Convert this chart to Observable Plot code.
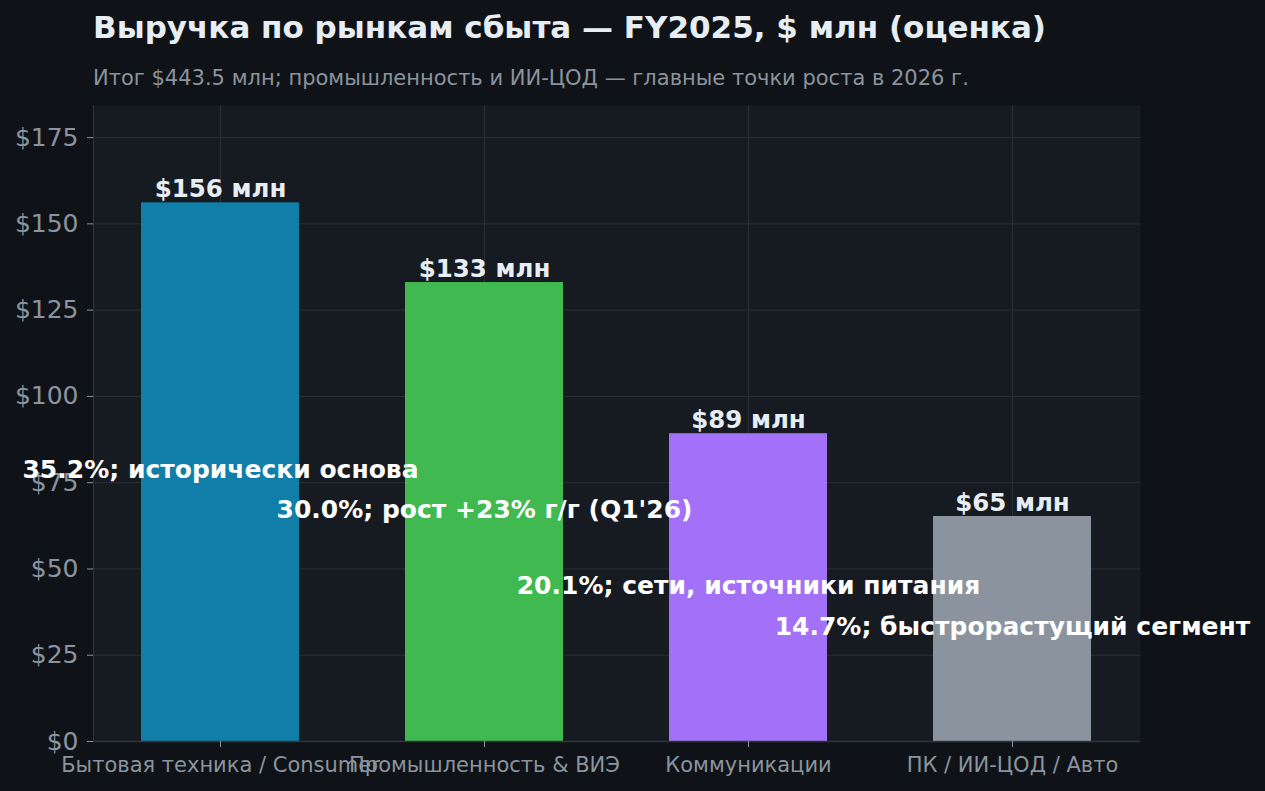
<!DOCTYPE html>
<html>
<head>
<meta charset="utf-8">
<script src="https://cdn.jsdelivr.net/npm/d3@7"></script>
<script src="https://cdn.jsdelivr.net/npm/@observablehq/plot@0.6"></script>
<style>
  html, body { margin: 0; padding: 0; background: #0f1317; width: 1265px; height: 791px; overflow: hidden; font-family: "DejaVu Sans", sans-serif; }
  #title { position: absolute; left: 93px; top: 9px; font-size: 31px; font-weight: bold; color: #e6edf3; white-space: nowrap; }
  #subtitle { position: absolute; left: 93px; top: 66px; font-size: 21px; color: #8b949e; white-space: nowrap; }
  #chart { position: absolute; left: 0; top: 95px; }
</style>
</head>
<body>
<div id="title">Выручка по рынкам сбыта — FY2025, $ млн (оценка)</div>
<div id="subtitle">Итог $443.5 млн; промышленность и ИИ-ЦОД — главные точки роста в 2026 г.</div>
<div id="chart"></div>
<script>
const categories = ["Бытовая техника / Consumer", "Промышленность & ВИЭ", "Коммуникации", "ПК / ИИ-ЦОД / Авто"];
const values = [156.1, 133.0, 89.2, 65.2];
const shares = ["35.2%", "30.0%", "20.1%", "14.7%"];
const notes = ["исторически основа", "рост +23% г/г (Q1'26)", "сети, источники питания", "быстрорастущий сегмент"];
const colors = ["#107ea8", "#3fb950", "#a371f7", "#8b949e"];
const yTicks = [0, 25, 50, 75, 100, 125, 150, 175];

const data = categories.map((c, i) => ({
  cat: c, value: values[i],
  label: `$${Math.round(values[i])} млн`,
  note: `${shares[i]}; ${notes[i]}`
}));

const W = 1265, H = 696;
const mL = 93, mR = 125, mT = 10, mB = 50;

const chart = Plot.plot({
  width: W, height: H,
  marginLeft: mL, marginRight: mR, marginTop: mT, marginBottom: mB,
  style: { background: "transparent", fontFamily: "DejaVu Sans, sans-serif", overflow: "visible" },
  x: { domain: categories, range: [88, 1145], paddingInner: 0.4, paddingOuter: 0.2, label: null },
  y: { domain: [0, 184.3], label: null },
  color: { domain: categories, range: colors },
  marks: [
    Plot.frame({ fill: "#161a21", stroke: null }),
    Plot.gridY(yTicks, { stroke: "#2b3038", strokeOpacity: 1, strokeWidth: 1 }),
    Plot.gridX(categories, { stroke: "#2b3038", strokeOpacity: 1, strokeWidth: 1 }),
    Plot.frame({ anchor: "left", stroke: "#30363d" }),
    Plot.barY(data, { x: "cat", y: "value", fill: "cat" }),
    Plot.ruleY([0], { stroke: "#30363d", strokeWidth: 1.5 }),
    Plot.axisY(yTicks, { tickFormat: d => `$${d}`, tickSize: 6, tickPadding: 9, fontSize: 25, fill: "#8b949e", stroke: "#8b949e", label: null }),
    Plot.axisX({ tickSize: 6, tickPadding: 10, fontSize: 21, fill: "#8b949e", stroke: "#8b949e", label: null }),
    Plot.text(data, { x: "cat", y: "value", text: "label", lineAnchor: "bottom", dy: -6, fontSize: 24.5, fontWeight: "bold", fill: "#e6edf3" }),
    Plot.text(data, { x: "cat", y: d => d.value / 2, text: "note", lineAnchor: "middle", dy: -2, fontSize: 25, fontWeight: "bold", fill: "#ffffff" })
  ]
});
document.getElementById("chart").appendChild(chart);
</script>
</body>
</html>
